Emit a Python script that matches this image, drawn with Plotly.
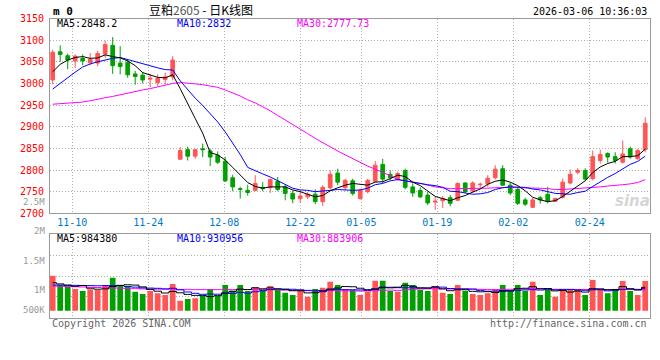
import plotly.graph_objects as go

# ---------------- data ----------------
opens = [3008, 3073, 3064, 3052, 3058, 3048, 3047, 3068, 3088, 3047,
         3049, 3022, 3019, 3010, 3002, 3009, 3015, 2825, 2847, 2832,
         2849, 2844, 2834, 2820, 2782, 2757, 2753, 2753, 2760, 2759,
         2774, 2761, 2746, 2734, 2738, 2744, 2727, 2759, 2793, 2759,
         2775, 2734, 2750, 2774, 2813, 2790, 2778, 2799, 2761, 2753,
         2742, 2726, 2729, 2736, 2730, 2770, 2752, 2766, 2768, 2782,
         2803, 2765, 2755, 2731, 2714, 2736, 2744, 2728, 2737, 2770,
         2795, 2799, 2780, 2822, 2838, 2831, 2818, 2849, 2826, 2847]
highs = [3078, 3088, 3069, 3067, 3067, 3070, 3075, 3099, 3107, 3086,
         3055, 3029, 3027, 3022, 3021, 3025, 3063, 2853, 2854, 2848,
         2861, 2849, 2843, 2830, 2789, 2761, 2766, 2788, 2772, 2781,
         2784, 2766, 2753, 2753, 2749, 2755, 2765, 2799, 2803, 2780,
         2780, 2757, 2780, 2821, 2826, 2799, 2796, 2803, 2769, 2760,
         2750, 2738, 2740, 2742, 2771, 2772, 2774, 2771, 2788, 2811,
         2811, 2771, 2761, 2736, 2736, 2740, 2761, 2736, 2780, 2801,
         2804, 2804, 2845, 2847, 2841, 2841, 2868, 2854, 2849, 2922]
lows = [2998, 3050, 3033, 3036, 3042, 3042, 3040, 3059, 3022, 3021,
        3013, 2997, 3000, 2992, 2994, 2998, 3007, 2824, 2822, 2826,
        2830, 2809, 2814, 2772, 2751, 2734, 2741, 2751, 2751, 2747,
        2751, 2730, 2723, 2724, 2733, 2721, 2717, 2755, 2765, 2753,
        2741, 2732, 2746, 2772, 2770, 2776, 2775, 2755, 2738, 2735,
        2719, 2708, 2712, 2716, 2729, 2746, 2747, 2758, 2761, 2778,
        2763, 2742, 2719, 2717, 2712, 2722, 2723, 2727, 2734, 2767,
        2790, 2776, 2776, 2815, 2817, 2815, 2815, 2826, 2824, 2841]
closes = [3072, 3067, 3054, 3063, 3052, 3056, 3069, 3090, 3041, 3039,
          3020, 3016, 3008, 3012, 3012, 3015, 3054, 2845, 2832, 2847,
          2847, 2830, 2818, 2775, 2761, 2755, 2748, 2769, 2757, 2778,
          2755, 2746, 2733, 2740, 2744, 2727, 2760, 2790, 2772, 2776,
          2746, 2753, 2776, 2811, 2779, 2782, 2792, 2760, 2747, 2738,
          2724, 2728, 2734, 2723, 2769, 2750, 2770, 2767, 2781, 2802,
          2765, 2747, 2723, 2721, 2731, 2731, 2727, 2734, 2772, 2790,
          2799, 2779, 2831, 2836, 2830, 2822, 2837, 2830, 2845, 2908]

ma5 = [3027, 3044, 3054, 3060, 3062, 3058, 3059, 3066, 3062, 3059,
       3052, 3041, 3025, 3019, 3014, 3013, 3020, 2988, 2952, 2919,
       2885, 2840, 2835, 2823, 2806, 2788, 2771, 2762, 2758, 2761,
       2761, 2761, 2754, 2750, 2744, 2738, 2741, 2752, 2759, 2765,
       2769, 2767, 2765, 2772, 2773, 2780, 2788, 2785, 2772, 2764,
       2752, 2739, 2734, 2729, 2736, 2741, 2749, 2756, 2767, 2774,
       2777, 2772, 2764, 2752, 2737, 2731, 2727, 2729, 2739, 2751,
       2764, 2775, 2794, 2807, 2815, 2820, 2831, 2831, 2833, 2848.2]
ma10 = [2987, 3000, 3015, 3026, 3038, 3045, 3050, 3054, 3058, 3060,
        3055, 3050, 3045, 3040, 3036, 3032, 3031, 3006, 2985, 2966,
        2949, 2930, 2911, 2888, 2862, 2836, 2806, 2798, 2791, 2784,
        2775, 2766, 2758, 2754, 2753, 2750, 2751, 2753, 2755, 2754,
        2753, 2754, 2758, 2766, 2769, 2775, 2778, 2775, 2772, 2768,
        2766, 2764, 2760, 2751, 2750, 2747, 2744, 2745, 2748, 2755,
        2759, 2761, 2760, 2760, 2756, 2754, 2750, 2746, 2745, 2744,
        2748, 2751, 2762, 2773, 2783, 2792, 2803, 2813, 2820, 2832]
ma30 = [2952, 2953, 2954, 2956, 2957, 2960, 2964, 2967, 2970, 2974,
        2978, 2982, 2985, 2988, 2992, 2996, 3000, 3002, 3001, 2999,
        2997, 2994, 2991, 2985, 2978, 2971, 2962, 2955, 2946, 2937,
        2926, 2916, 2905, 2894, 2884, 2873, 2863, 2853, 2844, 2835,
        2826, 2817, 2809, 2802, 2795, 2787, 2778, 2775, 2773, 2769,
        2765, 2761, 2759, 2757, 2757, 2757, 2758, 2758, 2758, 2759,
        2760, 2760, 2759, 2759, 2758, 2758, 2757, 2755, 2755, 2756,
        2758, 2758, 2760, 2761, 2763, 2764, 2766, 2768, 2771, 2777.73]

# volume, in thousands of lots
volume_k = [1477, 1084, 1013, 916, 831, 903, 873, 1084, 1392, 1084,
            1042, 802, 705, 831, 734, 662, 1127, 422, 494, 523,
            620, 916, 620, 1084, 844, 1084, 831, 987, 873, 1042,
            873, 759, 662, 873, 591, 916, 970, 1224, 1084, 903,
            873, 662, 802, 1266, 1266, 831, 802, 1181, 1084, 873,
            831, 1042, 759, 705, 1084, 831, 705, 662, 734, 903,
            1084, 831, 1084, 831, 1224, 662, 873, 591, 903, 903,
            873, 662, 1295, 873, 734, 916, 1253, 831, 662, 1253]
vol_ma5_k = [1180, 1130, 1080, 1030, 1064, 949, 907, 921, 1017, 1067,
             1095, 1081, 1005, 893, 823, 747, 812, 755, 688, 646,
             637, 595, 635, 753, 817, 910, 893, 966, 924, 963,
             921, 907, 842, 842, 752, 760, 802, 915, 957, 1019,
             1011, 949, 865, 901, 974, 965, 993, 1069, 1033, 954,
             954, 1002, 918, 842, 884, 884, 817, 797, 803, 767,
             818, 843, 927, 947, 1011, 926, 935, 836, 851, 786,
             829, 786, 927, 921, 887, 896, 1014, 921, 879, 984.38]
vol_ma10_k = [1080, 1080, 1070, 1070, 1060, 1060, 1050, 1060, 1060, 1066,
              1022, 994, 963, 955, 945, 921, 946, 880, 790, 734,
              692, 703, 695, 720, 731, 773, 744, 800, 838, 890,
              915, 900, 904, 883, 858, 841, 855, 878, 899, 886,
              886, 876, 890, 929, 997, 988, 971, 967, 967, 964,
              960, 998, 994, 937, 919, 919, 910, 858, 823, 826,
              851, 830, 862, 875, 889, 872, 889, 882, 899, 899,
              878, 861, 882, 886, 837, 862, 900, 924, 900, 930.956]
vol_ma30_k = [1040, 1030, 1020, 1010, 1000, 990, 980, 970, 960, 950,
              940, 930, 920, 920, 910, 910, 910, 900, 900, 890,
              890, 890, 890, 890, 890, 890, 890, 890, 890, 897,
              877, 866, 854, 853, 845, 845, 848, 853, 843, 837,
              831, 827, 830, 844, 862, 868, 857, 882, 902, 914,
              921, 925, 930, 917, 925, 917, 913, 902, 897, 892,
              899, 902, 916, 914, 935, 927, 924, 902, 896, 896,
              896, 896, 912, 899, 882, 884, 899, 888, 874, 883.906]

tick_labels = ["11-10", "11-24", "12-08", "12-22", "01-05", "01-19", "02-02", "02-24"]
tick_pos = [2.61, 12.75, 22.88, 33.01, 41.15, 51.28, 61.41, 71.6]
price_ticks = [2700, 2750, 2800, 2850, 2900, 2950, 3000, 3050, 3100, 3150]
vol_tick_labels = ["2.5M", "2M", "1.5M", "1M", "500K"]

title_name = "豆粕"
title_code = "2605"
title_tail = " - 日K线图"
header_left = "m 0"
timestamp = "2026-03-06 10:36:03"
legend_main = ["MA5:2848.2", "MA10:2832", "MA30:2777.73"]
legend_vol = ["MA5:984380", "MA10:930956", "MA30:883906"]
footer_left = "Copyright 2026 SINA.COM"
footer_right = "http://finance.sina.com.cn"

# ---------------- styling / layout constants ----------------
W, H = 660, 360
PL, PR = 50, 649.5
MAIN_TOP, MAIN_BOT = 18.5, 213.3
VOL_TOP, VOL_BOT = 234.3, 317.7
VOL_ZERO_PX, VOL_PX_PER_K = 310.7, 0.0237   # px per thousand lots
RED, GREEN = "#ff5555", "#00a000"
GRID = "#b0b0b0"
FRAME = "#9a9a9a"
MONO = "DejaVu Sans Mono"
CJK = "Noto Sans CJK SC"


def fx(px):
    return px / W


def fy(py):
    return 1 - py / H


idx = list(range(len(closes)))
x_lo, x_hi = -0.36, 79.57
vol_range = [-(VOL_BOT - VOL_ZERO_PX) / VOL_PX_PER_K, (VOL_ZERO_PX - VOL_TOP) / VOL_PX_PER_K]
span = vol_range[1] - vol_range[0]
vol_grid = [vol_range[0] + span * k / 4 for k in (1, 2, 3)]

fig = go.Figure()

fig.add_trace(go.Candlestick(
    x=idx, open=opens, high=highs, low=lows, close=closes,
    increasing=dict(line=dict(color=RED, width=1), fillcolor=RED),
    decreasing=dict(line=dict(color=GREEN, width=1), fillcolor=GREEN),
    whiskerwidth=0, xaxis="x", yaxis="y", showlegend=False, hoverinfo="skip"))

for series, col in ((ma30, "#ff00ff"), (ma10, "#0000ff"), (ma5, "#000000")):
    fig.add_trace(go.Scatter(x=idx, y=series, mode="lines", xaxis="x", yaxis="y",
                             line=dict(color=col, width=1), showlegend=False, hoverinfo="skip"))

bar_colors = [RED if c >= o else GREEN for o, c in zip(opens, closes)]
fig.add_trace(go.Bar(x=idx, y=volume_k, marker=dict(color=bar_colors, line=dict(width=0)),
                     xaxis="x2", yaxis="y2", showlegend=False, hoverinfo="skip"))
for series, col in ((vol_ma30_k, "#ff00ff"), (vol_ma10_k, "#0000ff"), (vol_ma5_k, "#000000")):
    fig.add_trace(go.Scatter(x=idx, y=series, mode="lines", xaxis="x2", yaxis="y2",
                             line=dict(color=col, width=1, shape="hvh"), showlegend=False,
                             hoverinfo="skip"))

axis_common = dict(showline=True, mirror=True, linecolor=FRAME, linewidth=1,
                   zeroline=False, showgrid=True, gridcolor=GRID, griddash="1px,2px",
                   gridwidth=1, ticks="")

fig.update_layout(
    width=W, height=H, margin=dict(l=0, r=0, t=0, b=0, autoexpand=False),
    paper_bgcolor="white", plot_bgcolor="white",
    bargap=0.24, boxgap=0.3, showlegend=False,
    xaxis=dict(domain=[fx(PL), fx(PR)], range=[x_lo, x_hi], anchor="y",
               tickvals=tick_pos, ticktext=tick_labels,
               tickfont=dict(family=MONO, size=10, color="#0078c8"),
               rangeslider=dict(visible=False), **axis_common),
    yaxis=dict(domain=[fy(MAIN_BOT), fy(MAIN_TOP)], range=[2700, 3150], anchor="x",
               tickvals=price_ticks, tickfont=dict(family=MONO, size=10, color="#ff0000"),
               ticklabelstandoff=3, **axis_common),
    xaxis2=dict(domain=[fx(PL), fx(PR)], range=[x_lo, x_hi], anchor="y2", matches="x",
                tickvals=tick_pos, showticklabels=False, **axis_common),
    yaxis2=dict(domain=[fy(VOL_BOT), fy(VOL_TOP)], range=vol_range, anchor="x2",
                tickvals=vol_grid, showticklabels=False, **axis_common),
)

anns = []


def ann(text, px, py, color="#000000", xanchor="left", size=10, family=MONO):
    anns.append(dict(text=text, x=fx(px), y=fy(py), xref="paper", yref="paper",
                     xanchor=xanchor, yanchor="middle", showarrow=False,
                     font=dict(family=family, size=size, color=color)))


ann("<b>%s</b>" % header_left, 51, 12, size=11)
ann("%s<span style='color:#555555'>%s</span>%s" % (title_name, title_code, title_tail),
    201, 9, xanchor="center", size=12, family=CJK)
ann(timestamp, 649, 11.7, xanchor="right")
for text, px, col in zip(legend_main, (55, 174.5, 295), ("#000000", "#0000ff", "#ff00ff")):
    ann(text, px, 24, color=col)
for text, px, col in zip(legend_vol, (55, 174.5, 295), ("#000000", "#0000ff", "#ff00ff")):
    ann(text, px, 238.5, color=col)
for text, py in zip(vol_tick_labels, (202, 230.7, 260.7, 290, 310)):
    ann(text, 46.5, py, color="#999999", xanchor="right", size=9)
ann(footer_left, 50, 323.5, color="#666666")
ann(footer_right, 649, 323.5, color="#666666", xanchor="right")
ann("<b><i>sina</i></b>", 632, 201, color="rgba(200,200,200,0.75)", xanchor="center",
    size=15, family="DejaVu Sans")

fig.update_layout(annotations=anns)
fig.write_html("out.html", config={"displayModeBar": False},
               post_script="document.body.style.margin='0';document.body.style.padding='0';")
